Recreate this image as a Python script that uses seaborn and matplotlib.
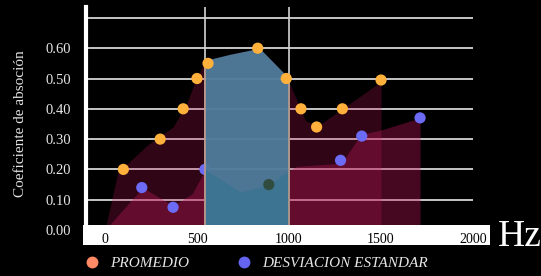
import numpy as np
import matplotlib
matplotlib.use("Agg")
import matplotlib.pyplot as plt
import seaborn as sns
from matplotlib.lines import Line2D
from matplotlib.patches import Rectangle

# dots
prom_hz = [100, 300, 425, 500, 560, 830, 985, 1065, 1150, 1290, 1500]
prom = [0.20, 0.30, 0.40, 0.50, 0.55, 0.60, 0.50, 0.40, 0.34, 0.40, 0.495]
desv_hz = [200, 370, 543, 890, 1280, 1395, 1712]
desv = [0.14, 0.075, 0.20, 0.15, 0.23, 0.31, 0.37]

# shaded areas
prom_fill_hz = [0, 70, 230, 370, 445, 490, 545, 680, 840, 985, 1090, 1160, 1500]
prom_fill = [0, 0.19, 0.28, 0.34, 0.42, 0.49, 0.56, 0.58, 0.60, 0.51, 0.36, 0.345, 0.49]
desv_fill_hz = [0, 205, 370, 475, 545, 735, 895, 985, 1040, 1285, 1390, 1500, 1712]
desv_fill = [0, 0.14, 0.08, 0.12, 0.20, 0.125, 0.15, 0.19, 0.21, 0.22, 0.315, 0.33, 0.37]

band = (543, 1000)
yticks = [0.0, 0.1, 0.2, 0.3, 0.4, 0.5, 0.6]
xticks = [0, 500, 1000, 1500, 2000]

sns.set_style("dark")
plt.rcParams['font.family'] = ['Liberation Serif', 'DejaVu Serif']

fig = plt.figure(figsize=(5.41, 2.76), dpi=100, facecolor='black')
ax = fig.add_axes([86 / 541, 46 / 276, 404 / 541, 223 / 276])
ax.set_facecolor('black')
ax.set_xlim(-103, 2092)
ax.set_ylim(0, 0.736)

# grid
ax.hlines(yticks[1:] + [0.7], -103, 2000, color='#d4d4d4', lw=1.3, zorder=1)
for v in band:
    ax.axvline(v, color='#d4d4d4', lw=1.2, zorder=1)

# crimson fills
ax.fill_between(prom_fill_hz, 0, prom_fill, color='#c2185b', alpha=0.25, lw=0, zorder=2)
ax.fill_between(desv_fill_hz, 0, desv_fill, color='#c2185b', alpha=0.36, lw=0, zorder=2)

# dots
sns.scatterplot(x=desv_hz, y=desv, color='#6b6bf5', s=65, edgecolor='none', zorder=3, ax=ax)

# blue band
def clip(xs, ys):
    xs = np.asarray(xs, float)
    ys = np.asarray(ys, float)
    inner = (xs > band[0]) & (xs < band[1])
    bx = np.concatenate([[band[0]], xs[inner], [band[1]]])
    by = np.interp(bx, xs, ys)
    return bx, by

bx, by = clip(prom_fill_hz, prom_fill)
ax.fill_between(bx, 0, by, color='#4f7c9c', alpha=0.95, lw=0, zorder=4)
bx, by = clip(desv_fill_hz, desv_fill)
ax.fill_between(bx, 0, by, color='#3b7492', alpha=0.95, lw=0, zorder=4)
for v in band:
    ax.vlines(v, 0, np.interp(v, prom_fill_hz, prom_fill), color='#b89a88', lw=1.2, zorder=5)

hidden = [(x, y) for x, y in zip(desv_hz, desv) if band[0] < x < band[1]]
ax.scatter([h[0] for h in hidden], [h[1] for h in hidden], color='#2f4c3e', s=65,
           edgecolor='none', zorder=5)

sns.scatterplot(x=prom_hz, y=prom, color='#ffb13b', s=65, edgecolor='none', zorder=6, ax=ax)

# axes styling
for s in ['top', 'right', 'bottom']:
    ax.spines[s].set_visible(False)
ax.spines['left'].set_color('white')
ax.spines['left'].set_linewidth(3)
ax.spines['left'].set_zorder(8)

ax.add_patch(Rectangle((-0.007, -0.067), 1.007, 0.089, transform=ax.transAxes,
                       facecolor='white', edgecolor='none', clip_on=False, zorder=7))

ax.set_yticks(yticks)
ax.set_yticklabels([f"{v:.2f}" for v in yticks], color='#e6e6e6', fontsize=10.5)
ax.set_xticks(xticks)
ax.set_xticklabels([str(v) for v in xticks], color='black', fontsize=10)
ax.tick_params(axis='y', length=0, pad=11)
ax.tick_params(axis='x', length=0, pad=2)
ax.xaxis.set_zorder(9)
ax.grid(False)

ax.set_ylabel('Coeficiente de absoción', color='#e6e6e6', fontsize=11)
ax.yaxis.set_label_coords(-0.145, 0.475)

fig.text(498 / 541, 0.141, 'Hz', color='white', fontsize=27, va='center', ha='left')

handles = [
    Line2D([], [], marker='o', ls='none', color='#ff8a65', markersize=7.5, label='PROMEDIO'),
    Line2D([], [], marker='o', ls='none', color='#6464f0', markersize=7.5, label='DESVIACION ESTANDAR'),
]
leg = fig.legend(handles=handles, loc='center left', bbox_to_anchor=(84 / 541, 13 / 276),
                 ncol=2, frameon=False, handlelength=1, handletextpad=0.7,
                 columnspacing=3.1, borderpad=0, borderaxespad=0,
                 prop={'style': 'italic', 'size': 11})
for t in leg.get_texts():
    t.set_color('#e6e6e6')

fig.savefig('out.png', dpi=100, facecolor='black')
